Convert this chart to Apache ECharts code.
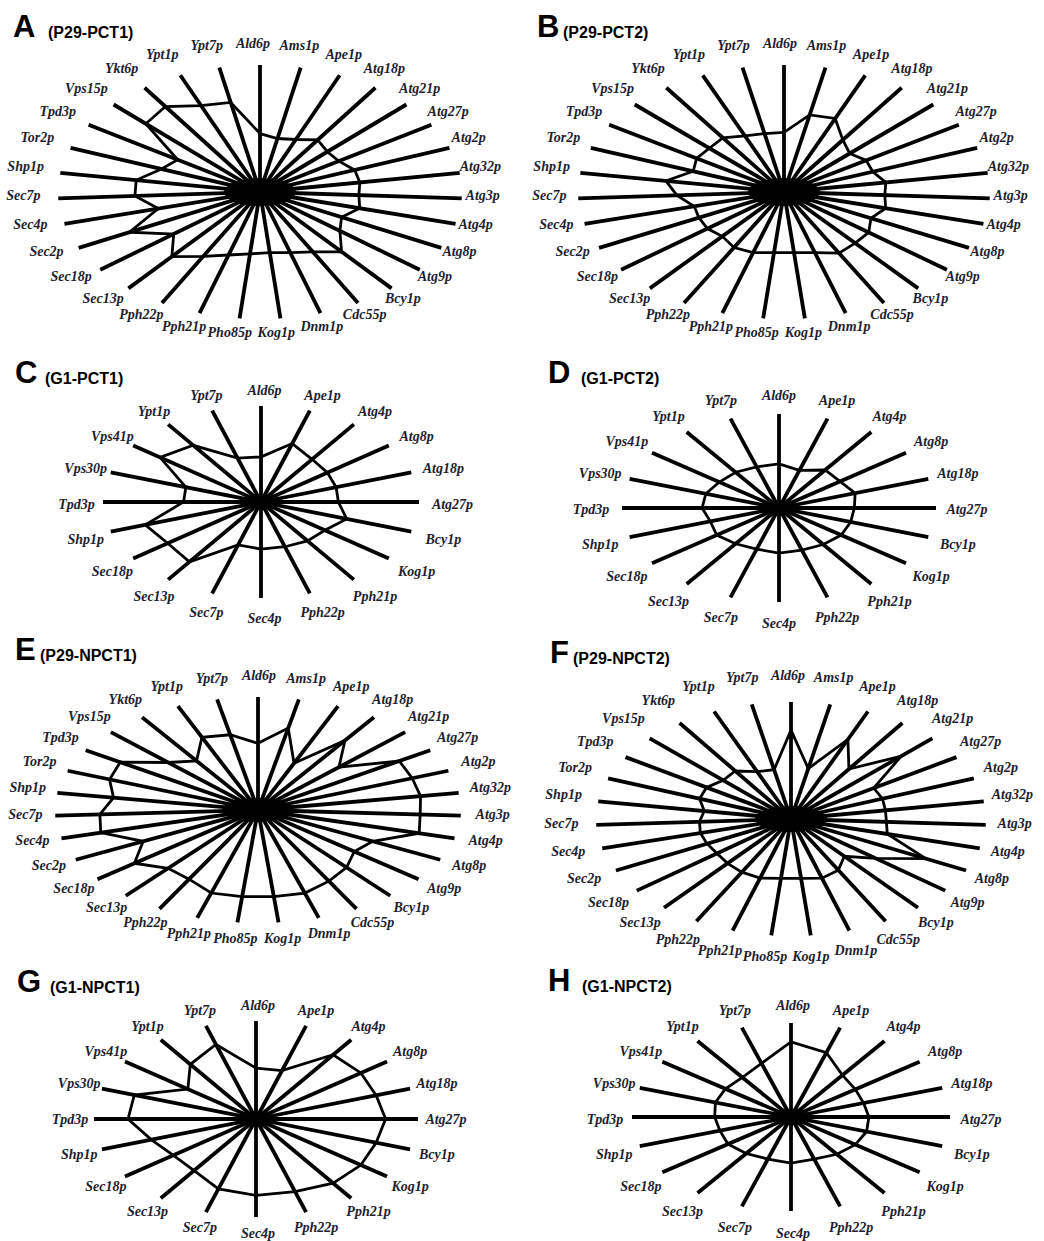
<!DOCTYPE html>
<html><head><meta charset="utf-8">
<script src="https://cdn.jsdelivr.net/npm/echarts@6/dist/echarts.min.js"></script>
<style>html,body{margin:0;padding:0;background:#fff}#c{width:1044px;height:1241px}</style>
</head><body><div id="c"></div>
<script>
// ---------- data ----------
const CATS31 = ['Ald6p','Ams1p','Ape1p','Atg18p','Atg21p','Atg27p','Atg2p','Atg32p','Atg3p','Atg4p','Atg8p','Atg9p','Bcy1p','Cdc55p','Dnm1p','Kog1p','Pho85p','Pph21p','Pph22p','Sec13p','Sec18p','Sec2p','Sec4p','Sec7p','Shp1p','Tor2p','Tpd3p','Vps15p','Ykt6p','Ypt1p','Ypt7p'];
const CATS20 = ['Ald6p','Ape1p','Atg4p','Atg8p','Atg18p','Atg27p','Bcy1p','Kog1p','Pph21p','Pph22p','Sec4p','Sec7p','Sec13p','Sec18p','Shp1p','Tpd3p','Vps30p','Vps41p','Ypt1p','Ypt7p'];

const valuesA = [0.46,0.43,0.45,0.50,0.46,0.46,0.50,0.50,0.49,0.51,0.45,0.50,0.62,0.54,0.50,0.48,0.49,0.52,0.58,0.67,0.54,0.72,0.52,0.62,0.62,0.52,0.48,0.78,0.82,0.74,0.72];
const valuesB = [0.47,0.62,0.63,0.50,0.44,0.47,0.46,0.50,0.49,0.51,0.47,0.52,0.53,0.55,0.50,0.48,0.48,0.50,0.50,0.46,0.47,0.46,0.45,0.52,0.58,0.47,0.50,0.50,0.52,0.48,0.47];
const valuesC = [0.47,0.64,0.55,0.52,0.50,0.49,0.57,0.50,0.50,0.49,0.49,0.47,0.77,0.73,0.77,0.49,0.50,0.79,0.73,0.48];
const valuesD = [0.47,0.42,0.50,0.48,0.51,0.48,0.48,0.49,0.48,0.47,0.48,0.46,0.47,0.49,0.46,0.49,0.49,0.47,0.47,0.46];
const valuesE = [0.59,0.74,0.45,0.75,0.55,0.82,0.81,0.81,0.80,0.82,0.63,0.60,0.67,0.72,0.77,0.77,0.77,0.77,0.70,0.68,0.77,0.63,0.80,0.78,0.72,0.78,0.80,0.61,0.53,0.70,0.68];
const valuesF = [0.76,0.44,0.74,0.52,0.78,0.50,0.50,0.49,0.49,0.51,0.77,0.55,0.42,0.50,0.53,0.51,0.51,0.53,0.52,0.50,0.48,0.48,0.48,0.47,0.45,0.50,0.51,0.48,0.50,0.44,0.43];
const valuesG = [0.52,0.52,0.81,0.80,0.78,0.80,0.78,0.80,0.81,0.78,0.78,0.75,0.65,0.63,0.68,0.79,0.79,0.52,0.69,0.80];
const valuesH = [0.80,0.72,0.55,0.50,0.48,0.49,0.50,0.50,0.49,0.47,0.49,0.47,0.48,0.49,0.47,0.48,0.50,0.51,0.52,0.60];

const panelLetters = ['A','B','C','D','E','F','G','H'];
const panelTitles = ['(P29-PCT1)','(P29-PCT2)','(G1-PCT1)','(G1-PCT2)','(P29-NPCT1)','(P29-NPCT2)','(G1-NPCT1)','(G1-NPCT2)'];
const panelCats = [CATS31, CATS31, CATS20, CATS20, CATS31, CATS31, CATS20, CATS20];
const panelValues = [valuesA, valuesB, valuesC, valuesD, valuesE, valuesF, valuesG, valuesH];

// ---------- layout (pixels) ----------
const LAYOUT = [
  {cx:260, cy:192, a:202, b:127, lsx:-7, lsy:-4, la:230, lb:145, tx:13, ty:26, sx:48, hx:36, hy:14},
  {cx:784, cy:192, a:206, b:127, lsx:-4, lsy:-4, la:231, lb:145, tx:537, ty:26, sx:563, hx:36, hy:14},
  {cx:261, cy:502, a:158, b:96, lsx:3.5, lsy:2, la:188, lb:114, tx:15, ty:372, sx:45, hx:17, hy:7},
  {cx:779, cy:508, a:157, b:94, lsx:0, lsy:1, la:188, lb:114, tx:548, ty:372, sx:581, hx:18, hy:7},
  {cx:258, cy:810, a:203, b:113, lsx:1, lsy:-2.5, la:234, lb:132, tx:15, ty:649, sx:40, hx:36, hy:12},
  {cx:791, cy:819, a:195, b:117, lsx:-3, lsy:-3, la:227, lb:141, tx:550, ty:652, sx:573, hx:36, hy:13},
  {cx:256, cy:1119, a:162, b:98, lsx:2, lsy:0, la:188, lb:114, tx:17, ty:981, sx:50, hx:17, hy:7},
  {cx:791, cy:1117, a:159, b:94, lsx:2, lsy:2, la:188, lb:114, tx:548, ty:980, sx:582, hx:18, hy:8}
];

const LABEL_FONT = 'italic bold 14px "Liberation Serif"';
const LABEL_COLOR = '#1e1e30';

const chart = echarts.init(document.getElementById('c'), null, {renderer:'svg', width:1044, height:1241});
const grid = [], xAxis = [], yAxis = [], series = [], graphic = [];

panelCats.forEach((cats, k) => {
  const L = LAYOUT[k];
  const vals = panelValues[k];
  const n = cats.length;
  const ang = i => 2 * Math.PI * i / n;
  grid.push({left: L.cx - L.a, top: L.cy - L.b, width: 2 * L.a, height: 2 * L.b});
  xAxis.push({type:'value', gridIndex:k, min:-1, max:1, show:false});
  yAxis.push({type:'value', gridIndex:k, min:-1, max:1, show:false});

  // spokes + category labels (+ dense hub where spokes converge)
  series.push({
    type:'custom', xAxisIndex:k, yAxisIndex:k, silent:true, z:2,
    data: cats.map((c, i) => ({name:c, value:[i]})),
    renderItem: (params, api) => {
      const i = api.value(0);
      const s = Math.sin(ang(i)), c = Math.cos(ang(i));
      const o = api.coord([0, 0]);
      const e = api.coord([s, c]);
      const children = [
        {type:'line', shape:{x1:o[0], y1:o[1], x2:e[0], y2:e[1]}, style:{stroke:'#000', lineWidth:3.8}},
        {type:'text', style:{text:cats[i], x:o[0] + L.lsx + L.la * s, y:o[1] + L.lsy - L.lb * c,
          textAlign:'center', textVerticalAlign:'middle', font:LABEL_FONT, fill:LABEL_COLOR}}
      ];
      if (i === 0) {
        children.push({type:'circle', shape:{cx:0, cy:0, r:1}, x:o[0], y:o[1], scaleX:L.hx, scaleY:L.hy, style:{fill:'#000'}});
      }
      return {type:'group', children};
    }
  });

  // data polygon
  const pts = vals.map((v, i) => [v * Math.sin(ang(i)), v * Math.cos(ang(i))]);
  pts.push(pts[0]);
  series.push({type:'line', xAxisIndex:k, yAxisIndex:k, data:pts, symbol:'none', silent:true, z:3,
    lineStyle:{color:'#000', width:2.8, join:'miter'}});

  graphic.push({type:'text', x:L.tx, y:L.ty, style:{text:panelLetters[k], font:'bold 31px "Liberation Sans"', fill:'#000', textVerticalAlign:'middle'}});
  graphic.push({type:'text', x:L.sx, y:L.ty + 6, style:{text:panelTitles[k], font:'bold 16px "Liberation Sans"', fill:'#000', textVerticalAlign:'middle'}});
});

chart.setOption({
  backgroundColor:'#fff',
  animation:false,
  grid, xAxis, yAxis, series, graphic
});
</script>
</body></html>
